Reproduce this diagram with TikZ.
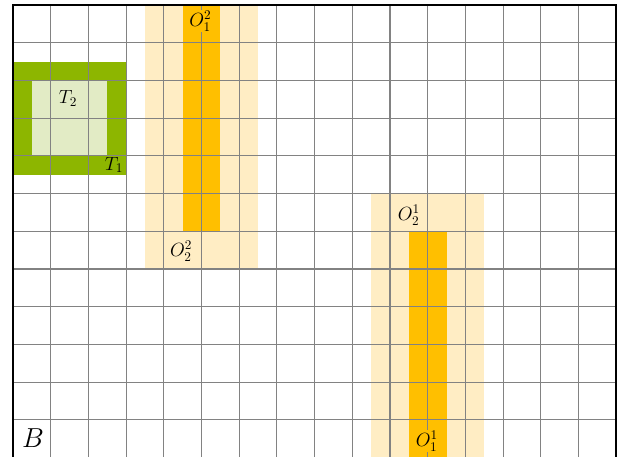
\documentclass[tikz,border=0pt]{standalone}
\usepackage{amsmath}
\begin{document}
\begin{tikzpicture}[x=1cm,y=1cm,
  darkorange/.style={fill={rgb,255:red,255;green,191;blue,0}},
  paleorange/.style={fill={rgb,255:red,255;green,237;blue,196}},
  darkgreen/.style={fill={rgb,255:red,141;green,182;blue,0}},
  palegreen/.style={fill={rgb,255:red,226;green,235;blue,197}},
  gridline/.style={draw={rgb,255:red,130;green,130;blue,130},line width=0.8pt},
  lbl/.style={inner sep=1pt,font=\Large}]
\useasboundingbox (-0.345,0.03) rectangle (16.26,12.136);
% regions
\path[darkgreen] (0,7.5) rectangle (3,10.5);
\path[palegreen] (0.5,8) rectangle (2.5,10);
\path[paleorange] (3.5,5) rectangle (6.5,12);
\path[darkorange] (4.5,6) rectangle (5.5,12);
\path[paleorange] (9.5,0) rectangle (12.5,7);
\path[darkorange] (10.5,0) rectangle (11.5,6);
% grid
\draw[gridline] (0,0) grid (16,12);
% labels
\node[lbl,palegreen] (t2) at (1.46,9.53) {$T_2$};
\node[lbl,darkgreen] (t1) at (2.68,7.76) {$T_1$};
\node[lbl,darkorange] (o12) at (4.97,11.58) {$O_1^2$};
\node[lbl,paleorange] (o22) at (4.46,5.48) {$O_2^2$};
\node[lbl,paleorange] (o21) at (10.5,6.43) {$O_2^1$};
\node[lbl,darkorange] (o11) at (10.98,0.44) {$O_1^1$};
\node[inner sep=0pt] (b) at (0.53,0.51) {\huge$B$};
% border
\draw[line width=1.4pt] (0,0) rectangle (16,12);
\end{tikzpicture}
\end{document}
